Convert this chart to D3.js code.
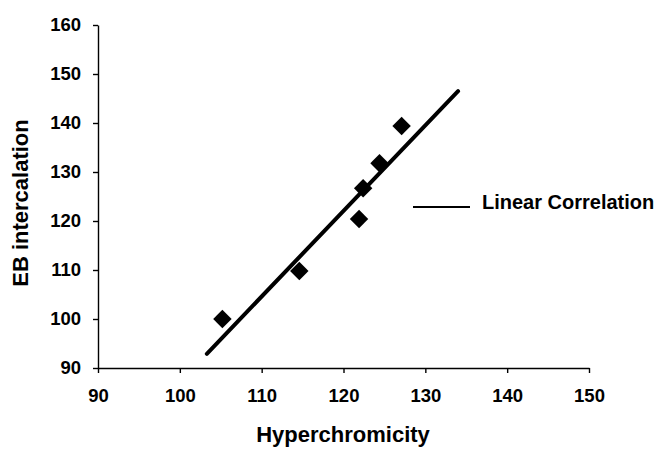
<!DOCTYPE html>
<html>
<head>
<meta charset="utf-8">
<script src="https://cdn.jsdelivr.net/npm/d3@7"></script>
<style>
  body { margin: 0; background: #fff; }
  svg text { font-family: "Liberation Sans", Arial, sans-serif; font-weight: bold; fill: #000; }
</style>
</head>
<body>
<div id="chart"></div>
<script>
// data
const hyperchromicity = [105.2, 114.6, 121.9, 122.4, 124.4, 127.1];
const ebIntercalation = [100.0, 109.8, 120.4, 126.7, 131.8, 139.4];
// ends of the fitted line
const fitX = [103.3, 134.0];
const fitY = [92.9, 146.5];
const xTicks = [90, 100, 110, 120, 130, 140, 150];
const yTicks = [90, 100, 110, 120, 130, 140, 150, 160];
const legendLabel = "Linear Correlation";

const W = 662, H = 452;
const margin = { top: 25, right: 73, bottom: 84, left: 98 };

const svg = d3.select("#chart").append("svg")
  .attr("width", W)
  .attr("height", H);

const x = d3.scaleLinear().domain([90, 150]).range([margin.left, W - margin.right]);
const y = d3.scaleLinear().domain([90, 160]).range([H - margin.bottom, margin.top]);

// axes
const xAxis = svg.append("g")
  .attr("transform", `translate(0,${y(90)})`)
  .call(d3.axisBottom(x).tickValues(xTicks).tickSize(5).tickPadding(16).tickSizeOuter(0));
const yAxis = svg.append("g")
  .attr("transform", `translate(${x(90)},0)`)
  .call(d3.axisLeft(y).tickValues(yTicks).tickSize(5).tickPadding(12).tickSizeOuter(0));

[xAxis, yAxis].forEach(g => {
  g.selectAll("path, line").attr("stroke", "#000").attr("stroke-width", 1.4);
  g.selectAll("text").style("font-size", "18.5px");
});

// axis titles
svg.append("text")
  .attr("x", 343)
  .attr("y", 442)
  .attr("text-anchor", "middle")
  .style("font-size", "22px")
  .text("Hyperchromicity");

svg.append("text")
  .attr("transform", "translate(28,203) rotate(-90)")
  .attr("text-anchor", "middle")
  .style("font-size", "22px")
  .text("EB intercalation");

// regression line
svg.append("line")
  .attr("x1", x(fitX[0])).attr("y1", y(fitY[0]))
  .attr("x2", x(fitX[1])).attr("y2", y(fitY[1]))
  .attr("stroke", "#000")
  .attr("stroke-width", 4)
  .attr("stroke-linecap", "round");

// diamond markers (square turned 45deg)
const points = hyperchromicity.map((h, i) => ({ h, e: ebIntercalation[i] }));
svg.append("g").selectAll("path")
  .data(points)
  .enter()
  .append("path")
  .attr("d", d3.symbol().type(d3.symbolSquare).size(170))
  .attr("transform", d => `translate(${x(d.h)},${y(d.e)}) rotate(45)`)
  .attr("fill", "#000");

// legend
const legend = svg.append("g").attr("transform", "translate(413,207)");
legend.append("line")
  .attr("x1", 0).attr("x2", 57)
  .attr("stroke", "#000")
  .attr("stroke-width", 2);
legend.append("text")
  .attr("x", 69)
  .attr("y", 2)
  .style("font-size", "20px")
  .text(legendLabel);
</script>
</body>
</html>
